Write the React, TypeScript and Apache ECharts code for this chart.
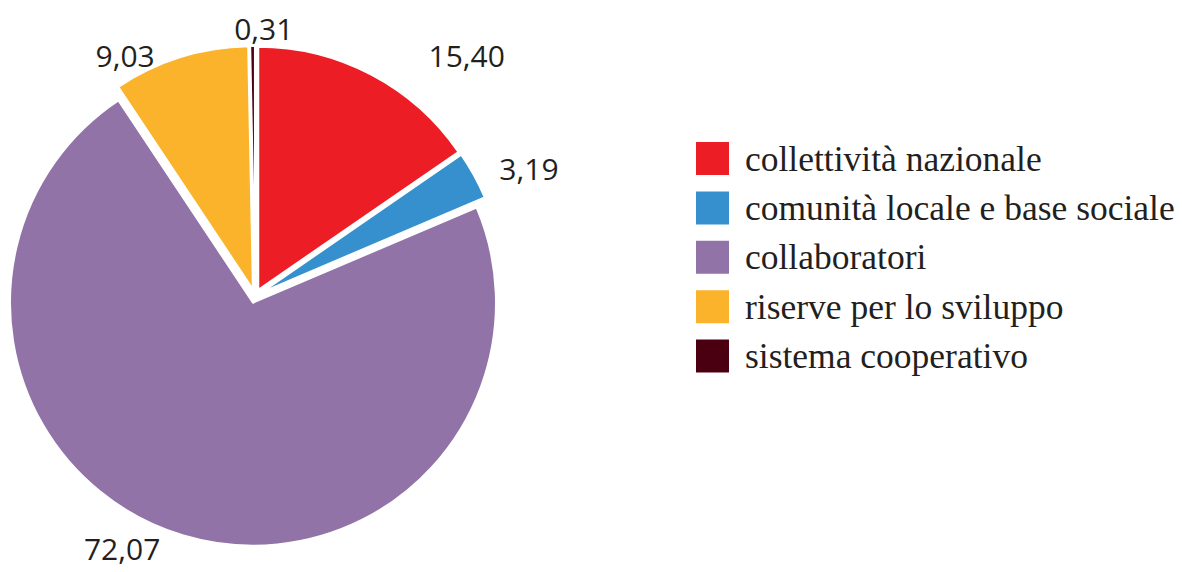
import { useEffect, useRef } from "react";
import * as echarts from "echarts";

const categories = [
  "collettività nazionale",
  "comunità locale e base sociale",
  "collaboratori",
  "riserve per lo sviluppo",
  "sistema cooperativo",
];
const values = [15.4, 3.19, 72.07, 9.03, 0.31];
const colors = ["#ED1D25", "#3590CD", "#9173A7", "#FCB32C", "#4A0010"];
const labelLengths = [22, 14, 14, 2, 18];
const labelLengths2 = [42, 8, 14, 20, -46];

export default function App() {
  const ref = useRef<HTMLDivElement>(null);
  useEffect(() => {
    document.body.style.margin = "0";
    const chart = echarts.init(ref.current!, undefined, { renderer: "svg" });
    const fmt = (v: number) => v.toFixed(2).replace(".", ",");
    chart.setOption({
      animation: false,
      backgroundColor: "#ffffff",
      legend: {
        orient: "vertical",
        left: 689,
        top: 135,
        itemWidth: 35,
        itemHeight: 35,
        itemGap: 12.4,
        icon: "rect",
        selectedMode: false,
        textStyle: {
          fontFamily: "Liberation Serif",
          fontSize: 35.5,
          lineHeight: 35,
          color: "#231f20",
          padding: [0, 0, 0, 10],
        },
        data: categories,
      },
      series: [
        {
          type: "pie",
          center: [255, 296],
          radius: 243,
          startAngle: 90,
          clockwise: true,
          avoidLabelOverlap: false,
          selectedMode: "multiple",
          selectedOffset: 7,
          emphasis: { disabled: true },
          itemStyle: { borderColor: "#ffffff", borderWidth: 2 },
          select: { itemStyle: { borderColor: "#ffffff", borderWidth: 2 } },
          label: {
            show: true,
            position: "outside",
            fontFamily: "Open Sans",
            fontSize: 30,
            lineHeight: 30,
            color: "#231f20",
            formatter: (p: any) => fmt(p.value),
          },
          labelLine: { show: false },
          data: categories.map((name, i) => ({
            name,
            value: values[i],
            selected: true,
            itemStyle: { color: colors[i] },
            labelLine: { show: false, length: labelLengths[i], length2: labelLengths2[i] },
          })),
        },
      ],
    });
    return () => chart.dispose();
  }, []);
  return <div ref={ref} style={{ width: 1182, height: 572 }} />;
}
